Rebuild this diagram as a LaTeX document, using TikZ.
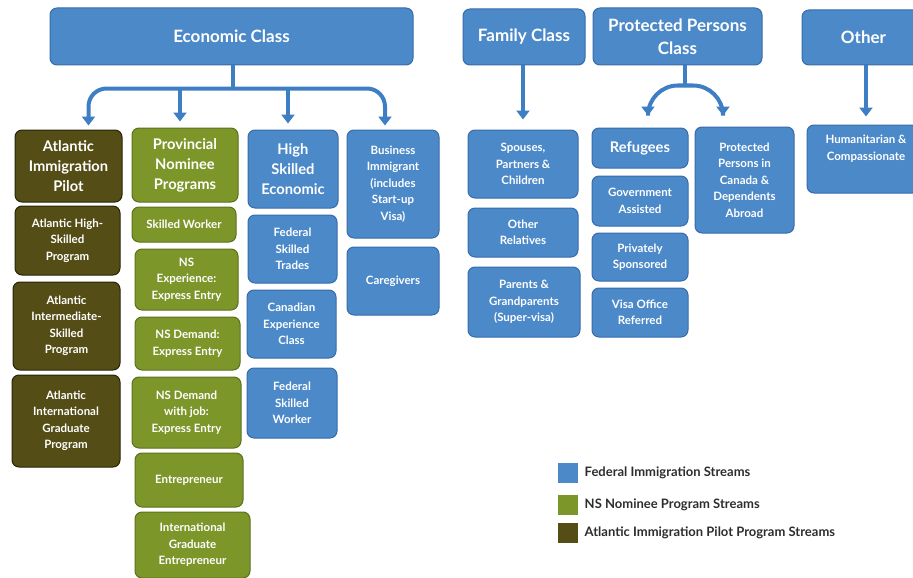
\documentclass[tikz,border=0pt]{standalone}
\usepackage{fontspec}
\setmainfont{Lato}
\usepackage{xcolor}
\usetikzlibrary{arrows.meta, positioning}
\definecolor{fedblue}{RGB}{76,137,201}
\definecolor{fedline}{RGB}{56,108,170}
\definecolor{nsgreen}{RGB}{124,150,42}
\definecolor{nsline}{RGB}{92,112,28}
\definecolor{aipolive}{RGB}{84,77,22}
\definecolor{aipline}{RGB}{40,36,10}
\definecolor{arrowblue}{RGB}{62,126,196}
\definecolor{keygray}{RGB}{45,45,45}

\begin{document}
\begin{tikzpicture}[x=1pt, y=-1pt,
    box/.style={draw, line width=1pt, rectangle, rounded corners=7pt, align=center, text=white, inner sep=2pt, font=\bfseries\fontsize{11.5}{16.5}\selectfont},
    fed/.style={box, fill=fedblue, draw=fedline},
    ns/.style={box, fill=nsgreen, draw=nsline},
    aip/.style={box, fill=aipolive, draw=aipline},
    head/.style={font=\bfseries\fontsize{14.7}{20}\selectfont},
    top/.style={font=\bfseries\fontsize{17}{23}\selectfont},
    arrow/.style={-{Triangle[width=13pt,length=9pt]}, line width=4pt, draw=arrowblue},
    link/.style={line width=4pt, draw=arrowblue},
    keybox/.style={rectangle, minimum size=20pt, inner sep=0pt},
    keytext/.style={text=keygray, font=\bfseries\fontsize{13}{15}\selectfont}]

    \useasboundingbox (0,0) rectangle (913,578);
    \clip (0,0) rectangle (913,578);

    \node[fed, top, minimum width=363pt, minimum height=57pt] (econ) at (231.5,36.5) {Economic Class};
    \node[fed, top, minimum width=122pt, minimum height=56pt] (family) at (524,37) {Family Class};
    \node[fed, top, minimum width=169pt, minimum height=57pt] (protect) at (677.5,36.5) {Protected Persons\\Class};
    \node[fed, top, minimum width=123pt, minimum height=55pt] (other) at (863.5,37.5) {Other};

    \node[aip, head, minimum width=107pt, minimum height=72pt] (aip) at (68.5,166) {Atlantic\\Immigration\\Pilot};
    \node[aip, minimum width=105pt, minimum height=69pt] (aiphigh) at (67.5,240.5) {Atlantic High-\\Skilled\\Program};
    \node[aip, minimum width=107pt, minimum height=88pt] (aipmid) at (66.5,326) {Atlantic\\Intermediate-\\Skilled\\Program};
    \node[aip, minimum width=108pt, minimum height=92pt] (aipgrad) at (66,421) {Atlantic\\International\\Graduate\\Program};

    \node[ns, head, minimum width=106pt, minimum height=74pt] (pnp) at (185,165) {Provincial\\Nominee\\Programs};
    \node[ns, minimum width=104pt, minimum height=35pt] (skw) at (184,224.5) {Skilled Worker};
    \node[ns, minimum width=103pt, minimum height=61pt] (nsexp) at (186.5,279.5) {NS\\Experience:\\Express Entry};
    \node[ns, minimum width=105pt, minimum height=53pt] (nsdem) at (187.5,343.5) {NS Demand:\\Express Entry};
    \node[ns, minimum width=109pt, minimum height=71pt] (nsjob) at (186.5,412.5) {NS Demand\\with job:\\Express Entry};
    \node[ns, minimum width=108pt, minimum height=54pt] (entre) at (189,480) {Entrepreneur};
    \node[ns, minimum width=115pt, minimum height=66pt] (intgrad) at (192.5,545) {International\\Graduate\\Entrepreneur};

    \node[fed, head, minimum width=90pt, minimum height=78pt] (hse) at (293,169) {High\\Skilled\\Economic};
    \node[fed, minimum width=89pt, minimum height=68pt] (fst) at (292.5,249) {Federal\\Skilled\\Trades};
    \node[fed, minimum width=89pt, minimum height=68pt] (cec) at (291.5,324) {Canadian\\Experience\\Class};
    \node[fed, minimum width=90pt, minimum height=70pt] (fsw) at (292,403) {Federal\\Skilled\\Worker};

    \node[fed, minimum width=92pt, minimum height=108pt] (bus) at (393,184) {Business\\Immigrant\\(includes\\Start-up\\Visa)};
    \node[fed, minimum width=92pt, minimum height=68pt] (care) at (393,281) {Caregivers};

    \node[fed, minimum width=110pt, minimum height=68pt] (spouse) at (523,164) {Spouses,\\Partners \&\\Children};
    \node[fed, minimum width=110pt, minimum height=49pt] (relatives) at (523,232.5) {Other\\Relatives};
    \node[fed, minimum width=112pt, minimum height=70pt] (parents) at (524,302) {Parents \&\\Grandparents\\(Super-visa)};

    \node[fed, head, minimum width=96pt, minimum height=40pt] (refugees) at (640,148) {Refugees};
    \node[fed, minimum width=96pt, minimum height=50pt] (govt) at (640,201) {Government\\Assisted};
    \node[fed, minimum width=96pt, minimum height=48pt] (private) at (640,257) {Privately\\Sponsored};
    \node[fed, minimum width=96pt, minimum height=49pt] (vor) at (640,312.5) {Visa Office\\Referred};

    \node[fed, minimum width=99pt, minimum height=106pt] (ppcanada) at (744.5,180) {Protected\\Persons in\\Canada \&\\Dependents\\Abroad};
    \node[fed, minimum width=118pt, minimum height=68pt] (hc) at (866,159) {Humanitarian \&\\Compassionate\\[6pt]};

    \coordinate (ebar) at ([xshift=1.5pt, yshift=-23pt]econ.south);
    \draw[link] (econ.south -| ebar) -- (ebar);
    \draw[arrow, rounded corners=18pt, shorten >=4pt] (ebar) -| ([xshift=20pt]aip.north);
    \draw[arrow, rounded corners=18pt, shorten >=4pt] (ebar) -| ([xshift=-8pt]bus.north);
    \draw[arrow, shorten >=6pt] ([xshift=-5pt]pnp.north |- ebar) -- ([xshift=-5pt]pnp.north);
    \draw[arrow, shorten >=6pt] ([xshift=-5pt]hse.north |- ebar) -- ([xshift=-5pt]hse.north);

    \draw[arrow, shorten >=10pt] (family.south -| spouse.north) -- (spouse.north);

    \coordinate (pbar) at ([xshift=7.5pt, yshift=-20pt]protect.south);
    \draw[link] (protect.south -| pbar) -- (pbar);
    \draw[arrow, rounded corners=30pt, shorten >=12pt] (pbar) -| ([xshift=8pt]refugees.north);
    \draw[arrow, rounded corners=30pt, shorten >=11pt] (pbar) -| ([xshift=-21.5pt]ppcanada.north);

    \draw[arrow, shorten >=8pt] (other.south -| hc.north) -- (hc.north);

    \node[keybox, fill=fedblue] (kfed) at (568,473) {};
    \node[keybox, fill=nsgreen] (kns) at (568,505) {};
    \node[keybox, fill=aipolive] (kaip) at (568,533) {};
    \node[keytext, right=3pt of kfed] (lfed) {Federal Immigration Streams};
    \node[keytext, right=3pt of kns] (lns) {NS Nominee Program Streams};
    \node[keytext, right=3pt of kaip] (laip) {Atlantic Immigration Pilot Program Streams};
\end{tikzpicture}
\end{document}
